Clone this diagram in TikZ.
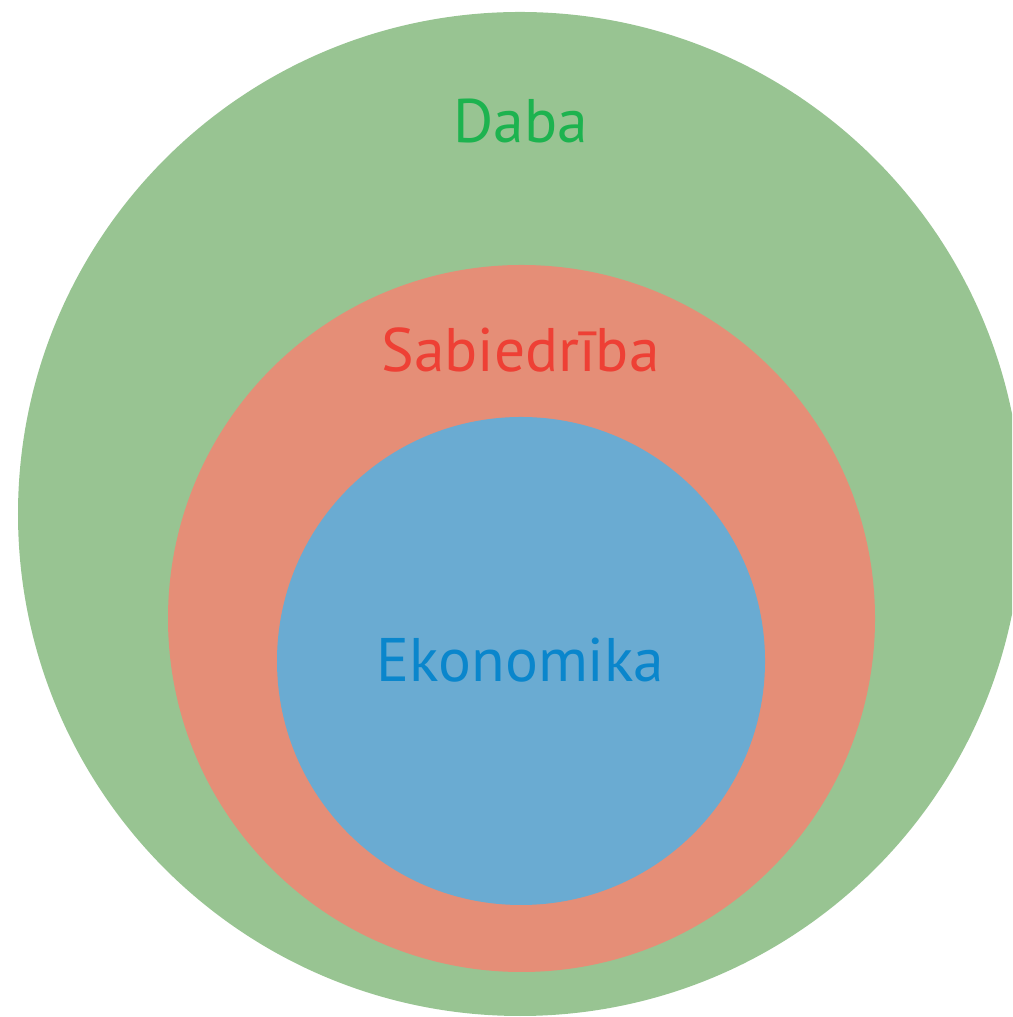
\documentclass[tikz,border=0pt]{standalone}
\usepackage{fontspec}
\setmainfont{PT Sans}

\definecolor{dabafill}{HTML}{98C492}
\definecolor{dabatext}{HTML}{1DB34F}
\definecolor{sabfill}{HTML}{E58E77}
\definecolor{sabtext}{HTML}{EE4035}
\definecolor{ekofill}{HTML}{6AABD2}
\definecolor{ekotext}{HTML}{0A86CC}

\begin{document}
\begin{tikzpicture}

    % let's define some key values
    \def\xc{5.205}
    \def\rdaba{5.02}
    \def\rsab{3.535}
    \def\reko{2.44}
    \coordinate (cdaba) at (5.20,5.03);
    \coordinate (csab) at (5.215,3.985);
    \coordinate (ceko) at (5.21,3.56);

    % Styles
    \tikzset{label/.style={anchor=base, inner sep=0pt, font=\fontsize{17.5}{19}\selectfont}}

    % page
    \useasboundingbox (0,0) rectangle (10.12,10.17);
    \clip (0,0) rectangle (10.12,10.17);

    % nature
    \fill[dabafill] (cdaba) circle (\rdaba);
    % society
    \fill[sabfill] (csab) circle (\rsab);
    % economy
    \fill[ekofill] (ceko) circle (\reko);

    % labels
    \node[label, dabatext] (daba) at (\xc,8.74) {Daba};
    \node[label, sabtext] (sabiedriba) at (\xc,6.45) {Sabiedrība};
    \node[label, ekotext] (ekonomika) at (\xc,3.35) {Ekonomika};

\end{tikzpicture}
\end{document}
